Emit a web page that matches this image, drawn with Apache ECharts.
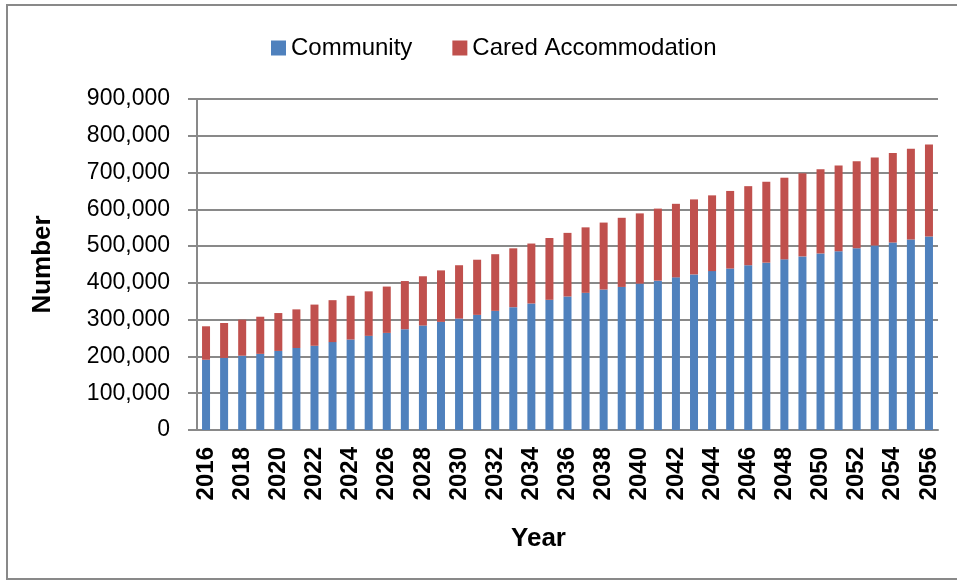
<!DOCTYPE html>
<html>
<head>
<meta charset="utf-8">
<script src="https://cdn.jsdelivr.net/npm/echarts@6/dist/echarts.min.js"></script>
<style>
  html, body { margin: 0; padding: 0; background: #fff; }
  #chart { width: 957px; height: 581px; }
</style>
</head>
<body>
<div id="chart"></div>
<script>
// years 2016..2056
const years = ['2016','2017','2018','2019','2020','2021','2022','2023','2024','2025',
  '2026','2027','2028','2029','2030','2031','2032','2033','2034','2035',
  '2036','2037','2038','2039','2040','2041','2042','2043','2044','2045',
  '2046','2047','2048','2049','2050','2051','2052','2053','2054','2055','2056'];

const community = [191000,196000,202000,207000,215000,223000,229000,239000,246000,256000,
  264000,274000,284000,294000,303000,313000,324000,334000,344000,354000,
  363000,373000,382000,389000,398000,406000,415000,423000,432000,439000,
  448000,455000,464000,472000,480000,486000,494000,502000,510000,518000,526000];

const totals = [282000,291000,300000,308000,318000,328000,341000,353000,365000,377000,
  390000,405000,418000,434000,448000,463000,478000,494000,507000,522000,
  536000,551000,564000,577000,589000,602000,615000,627000,638000,650000,
  663000,675000,686000,698000,709000,719000,731000,741000,753000,765000,776000];

const cared = totals.map((t, i) => t - community[i]);

const chart = echarts.init(document.getElementById('chart'));

const option = {
  animation: false,
  textStyle: { fontFamily: 'Liberation Sans' },
  graphic: [{
    type: 'rect',
    shape: { x: 7, y: 5, width: 970, height: 574 },
    style: { fill: 'none', stroke: '#898989', lineWidth: 2 }
  }],
  legend: {
    top: 31,
    left: 266,
    icon: 'rect',
    itemWidth: 15,
    itemHeight: 15,
    itemGap: 40,
    textStyle: { fontSize: 24, color: '#000', fontFamily: 'Liberation Sans' },
    data: ['Community', 'Cared Accommodation']
  },
  grid: { left: 197, right: 19, top: 99, bottom: 151 },
  xAxis: {
    type: 'category',
    data: years,
    name: 'Year',
    nameLocation: 'middle',
    nameGap: 96,
    nameTextStyle: { fontSize: 26, fontWeight: 'bold', color: '#000', padding: [0, 58, 0, 0] },
    axisLine: { lineStyle: { color: '#898989', width: 2 } },
    axisTick: { length: 8, interval: 0, lineStyle: { color: '#898989', width: 2 } },
    axisLabel: {
      interval: 1,
      rotate: 90,
      margin: 17,
      fontSize: 24,
      fontWeight: 'bold',
      color: '#000'
    }
  },
  yAxis: {
    type: 'value',
    min: 0,
    max: 900000,
    interval: 100000,
    name: 'Number',
    nameLocation: 'middle',
    nameGap: 141,
    nameRotate: 90,
    nameTextStyle: { fontSize: 26, fontWeight: 'bold', color: '#000' },
    axisLine: { show: true, lineStyle: { color: '#898989', width: 2 } },
    axisTick: { show: true, length: 9, lineStyle: { color: '#898989', width: 2 } },
    axisLabel: {
      margin: 27,
      fontSize: 23,
      color: '#000',
      formatter: v => v.toLocaleString('en-US')
    },
    splitLine: { lineStyle: { color: '#898989', width: 2 } }
  },
  series: [
    {
      name: 'Community',
      type: 'bar',
      stack: 'total',
      barWidth: 8,
      itemStyle: { color: '#4F81BD' },
      data: community
    },
    {
      name: 'Cared Accommodation',
      type: 'bar',
      stack: 'total',
      barWidth: 8,
      itemStyle: { color: '#C0504D' },
      data: cared
    }
  ]
};

chart.setOption(option);
</script>
</body>
</html>
